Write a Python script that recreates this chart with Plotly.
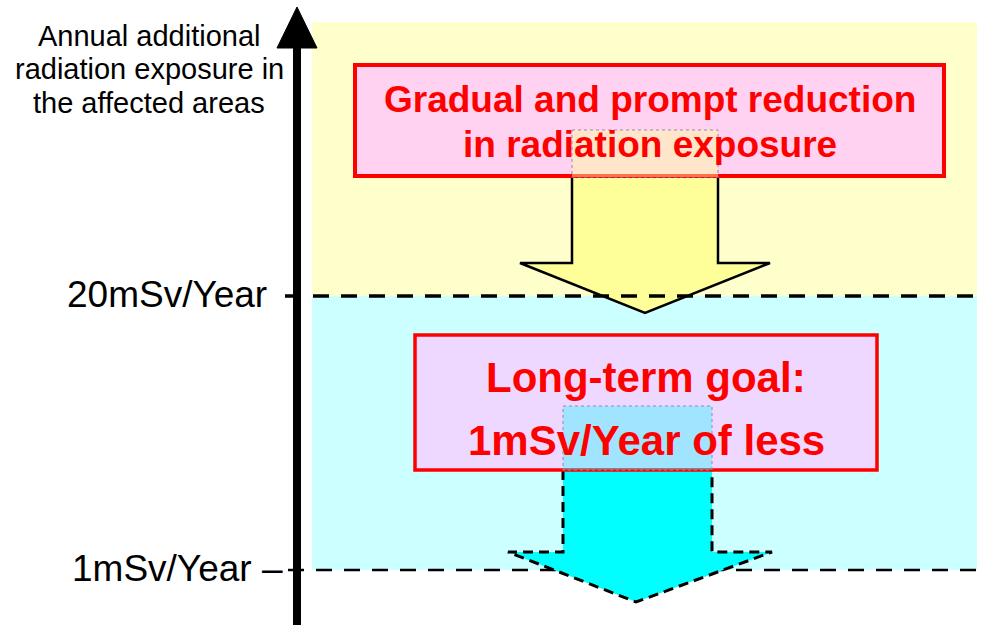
import plotly.graph_objects as go

# ---- content / values ----
levels_msv = [20, 1]
level_labels = ["20mSv/Year", "1mSv/Year \u2013"]
axis_title_lines = ["Annual additional", "radiation exposure in", "the affected areas"]
upper_box_lines = ["Gradual and prompt reduction", "in radiation exposure"]
lower_box_lines = ["Long-term goal:", "1mSv/Year of less"]

# ---- layout geometry (pixel space of the 983x625 canvas) ----
W, H = 983, 625
level_y = {20: 296, 1: 570}
band_x = (312, 977)
band_top = 22
FONT = "Arial, Liberation Sans, sans-serif"

fig = go.Figure()
fig.add_trace(go.Scatter(x=[0, W], y=[0, H], mode="markers",
                         marker=dict(opacity=0), hoverinfo="skip", showlegend=False))

shapes = []
# background zones
shapes.append(dict(type="rect", x0=band_x[0], x1=band_x[1], y0=band_top, y1=level_y[20],
                   fillcolor="#FFFFCC", line=dict(width=0)))
shapes.append(dict(type="rect", x0=band_x[0], x1=band_x[1], y0=level_y[20], y1=level_y[1],
                   fillcolor="#CCFFFF", line=dict(width=0)))
# 1 mSv level line (below cyan arrow)
shapes.append(dict(type="line", x0=288, x1=983, y0=level_y[1], y1=level_y[1],
                   line=dict(color="black", width=2.5, dash="16px,12px")))
# yellow arrow
shapes.append(dict(type="path",
                   path="M572,177 L572,263 L520,263 L645,313 L770,263 L718,263 L718,177",
                   fillcolor="#FFFF99", line=dict(color="black", width=2.5)))
# 20 mSv level line
shapes.append(dict(type="line", x0=285, x1=977, y0=level_y[20], y1=level_y[20],
                   line=dict(color="black", width=3.5, dash="16px,12px")))
# cyan arrow
shapes.append(dict(type="path",
                   path="M563,470 L563,552 L508,552 L636,602 L772,552 L712,552 L712,470",
                   fillcolor="#00FFFF", line=dict(color="black", width=3, dash="10px,6px")))
# upper box
shapes.append(dict(type="rect", x0=355, x1=944, y0=65, y1=176,
                   fillcolor="#FFD2F2", line=dict(color="#FF0000", width=4)))
shapes.append(dict(type="rect", x0=572, x1=718, y0=130, y1=177,
                   fillcolor="rgba(255,255,153,0.45)", line=dict(color="#9988AA", width=1, dash="dot")))
# lower box
shapes.append(dict(type="rect", x0=415, x1=877, y0=335, y1=470,
                   fillcolor="#EED8FF", line=dict(color="#FF0000", width=3.5)))
shapes.append(dict(type="rect", x0=563, x1=712, y0=406, y1=470,
                   fillcolor="rgba(0,255,255,0.32)", line=dict(color="#9988AA", width=1, dash="dot")))
# vertical axis arrow
shapes.append(dict(type="rect", x0=293, x1=301, y0=45, y1=H,
                   fillcolor="black", line=dict(width=0)))
shapes.append(dict(type="path", path="M297,7 L277,48 L317,48 Z",
                   fillcolor="black", line=dict(color="black", width=1)))

annotations = []
def txt(x, y, s, size, color="black", bold=False, xanchor="center"):
    annotations.append(dict(x=x, y=y, text=s, showarrow=False, xref="x", yref="y",
                            xanchor=xanchor, yanchor="middle",
                            font=dict(family=FONT, size=size, color=color,
                                      weight=700 if bold else 400)))

for i, line in enumerate(axis_title_lines):
    txt(149, [36, 69, 103][i], line, 29)
for v, lab, xr in zip(levels_msv, level_labels, [269, 285]):
    txt(xr, level_y[v] - 2, lab, 37, xanchor="right")
for i, line in enumerate(upper_box_lines):
    txt(650, [99, 144][i], line, 37, color="#FF0000", bold=True)
for i, line in enumerate(lower_box_lines):
    txt(646, [377, 440][i], line, 42, color="#FF0000", bold=True)

fig.update_layout(
    width=W, height=H, margin=dict(l=0, r=0, t=0, b=0),
    paper_bgcolor="white", plot_bgcolor="white",
    xaxis=dict(range=[0, W], visible=False, fixedrange=True),
    yaxis=dict(range=[H, 0], visible=False, fixedrange=True),
    shapes=shapes, annotations=annotations, showlegend=False,
)
fig.write_html("out.html", config={"displayModeBar": False},
               post_script="document.body.style.margin='0';document.body.style.overflow='hidden';")
